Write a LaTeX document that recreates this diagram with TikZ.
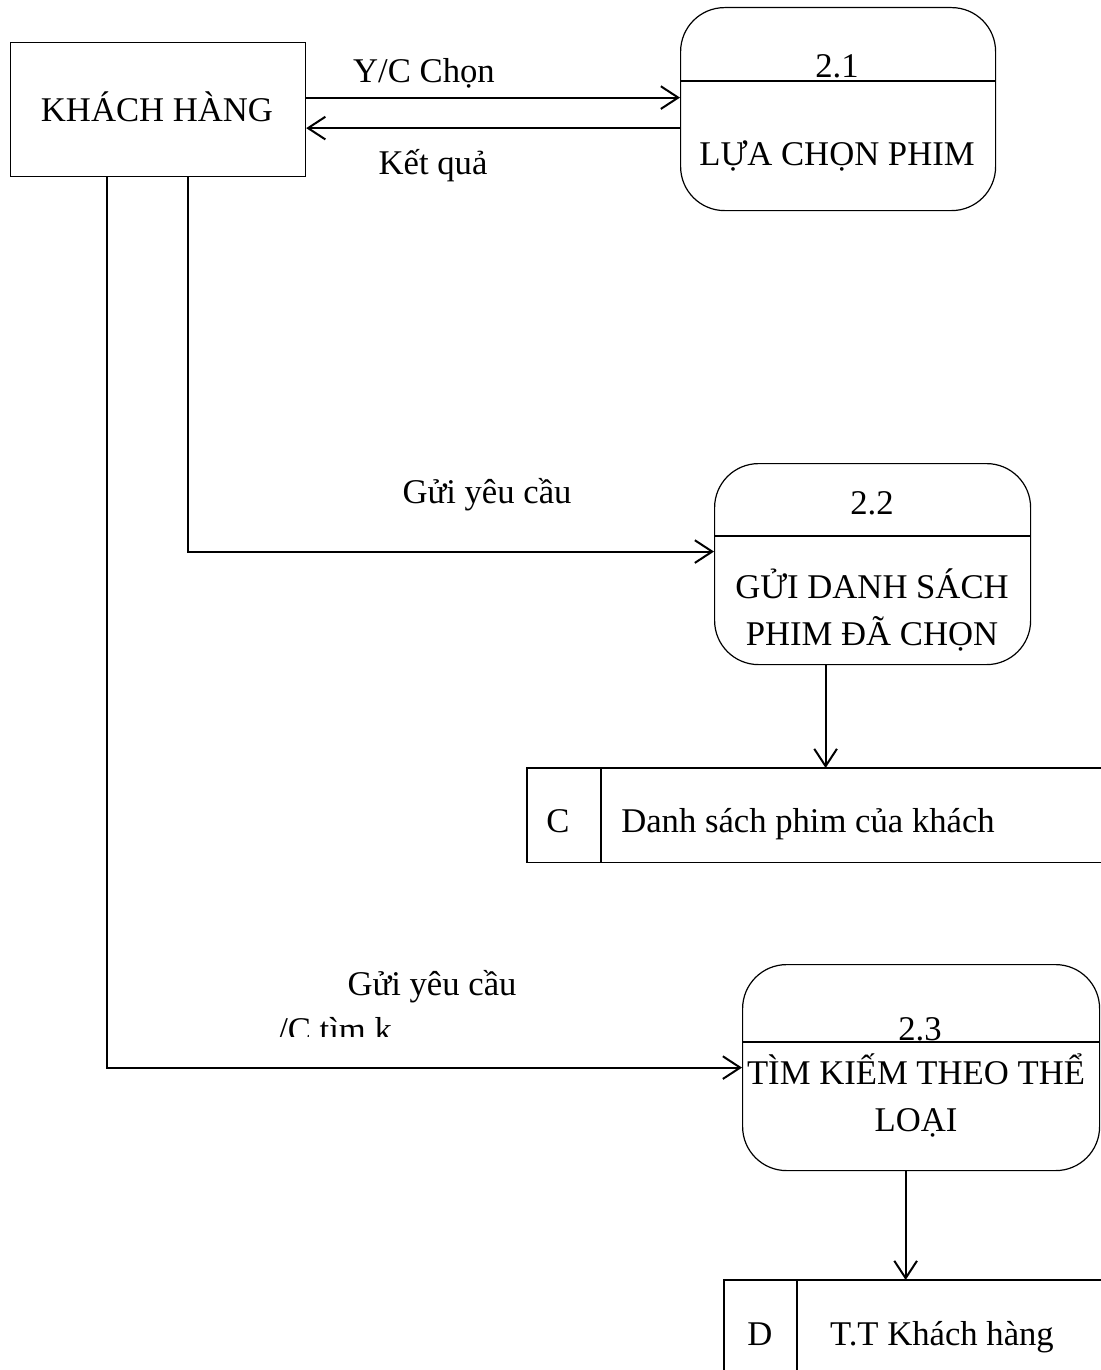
\documentclass[tikz,border=0pt]{standalone}
\usepackage{fontspec}
\setmainfont{Liberation Serif}
\usetikzlibrary{arrows.meta,calc}

\tikzset{
  txt/.style={font=\fontsize{26}{30}\selectfont, anchor=base, inner sep=0pt},
  entity/.style={draw, line width=0.9pt, anchor=north west, inner sep=0pt},
  process/.style={draw, line width=0.9pt, rounded corners=33pt, anchor=north west, inner sep=0pt},
  store/.style={anchor=north west, inner sep=0pt},
  edge/.style={line width=0.9pt},
  flow/.style={line width=1.5pt, -{Straight Barb[length=13pt,width=17pt,line width=1.5pt]}},
  wire/.style={line width=1.5pt}
}

\begin{document}
\begin{tikzpicture}[x=0.75pt,y=-0.75pt]
\useasboundingbox (0,0) rectangle (1100,1370);

% external entity
\node[entity, minimum width=221.25pt, minimum height=100.5pt] (kh) at (10,42) {};
\node[txt] (khT) at (157,122) {KHÁCH HÀNG};

% process 2.1
\node[process, minimum width=236.25pt, minimum height=152.25pt] (p1) at (680,7) {};
\coordinate (d1) at (680,81);
\draw[edge] (d1) -- (d1 -| p1.east);
\node[txt] (p1n) at (837,78) {2.1};
\node[txt] (p1t) at (837,165) {LỰA CHỌN PHIM};

% process 2.2
\node[process, minimum width=237pt, minimum height=150.75pt] (p2) at (714,463) {};
\coordinate (d2) at (714,536);
\draw[edge] (d2) -- (d2 -| p2.east);
\node[txt] (p2n) at (872,514) {2.2};
\node[txt] (p2a) at (872,598) {GỬI DANH SÁCH};
\node[txt] (p2b) at (872,645) {PHIM ĐÃ CHỌN};

% process 2.3
\node[process, minimum width=267.75pt, minimum height=154.5pt] (p3) at (742,964) {};
\coordinate (d3) at (742,1042);
\draw[edge] (d3) -- (d3 -| p3.east);
\node[txt] (p3n) at (920,1040) {2.3};
\node[txt] (p3a) at (916,1084) {TÌM KIẾM THEO THỂ};
\node[txt] (p3b) at (916,1131) {LOẠI};

% data store C
\node[store, minimum width=430pt, minimum height=70.5pt] (sc) at (527,768) {};
\draw[edge] (sc.north east) -- (sc.north west) -- (sc.south west) -- (sc.south east);
\coordinate (scd) at (601,768);
\draw[edge] (scd) -- (scd |- sc.south);
\node[txt] (scl) at (558,832) {C};
\node[txt] (sct) at (808,832) {Danh sách phim của khách};

% data store D
\node[store, minimum width=282pt, minimum height=67.5pt] (sd) at (724,1280) {};
\draw[edge] (sd.north east) -- (sd.north west) -- (sd.south west);
\coordinate (sdd) at (797,1280);
\draw[edge] (sdd) -- (sdd |- sd.south);
\node[txt] (sdl) at (760,1345) {D};
\node[txt] (sdt) at (942,1345) {T.T Khách hàng};

% flows between customer and 2.1
\path ([yshift=9pt]kh.east) coordinate (ycL);
\draw[flow] (ycL) -- (ycL -| p1.west);
\node[txt] (ycT) at (424,83) {Y/C Chọn};
\path ([yshift=-14.25pt]p1.west) coordinate (kqR);
\draw[flow] (kqR) -- (kqR -| kh.east);
\node[txt] (kqT) at (433,174) {Kết quả};

% request to 2.2
\path ([xshift=133.5pt]kh.south west) coordinate (g2);
\path ([yshift=9.4pt]p2.west) coordinate (p2in);
\draw[flow] (g2) |- (p2in);
\node[txt] (g2T) at (487,503) {Gửi yêu cầu};

% 2.2 to store C
\path ([xshift=-35.25pt]p2.south) coordinate (p2out);
\draw[flow] (p2out) -- (p2out |- sc.north);

% request to 2.3
\path ([xshift=72.75pt]kh.south west) coordinate (g3);
\draw[flow] (g3) |- (p3.west);
\node[txt] (g3T) at (432,995) {Gửi yêu cầu};
\begin{scope}
  \clip (270,1000) rectangle (400,1036);
  \node[txt, anchor=base west] (g3U) at (278,1041) {/C tìm k};
\end{scope}

% 2.3 to store D
\path ([xshift=-11.6pt]p3.south) coordinate (p3out);
\draw[flow] (p3out) -- (p3out |- sd.north);
\end{tikzpicture}
\end{document}
